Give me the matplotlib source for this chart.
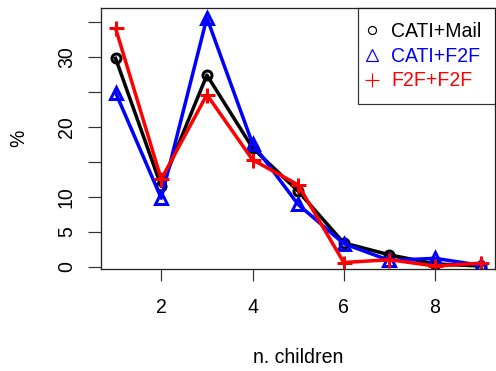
import matplotlib
matplotlib.use("Agg")
import matplotlib.pyplot as plt

# ---- data ----
n_children = [1, 2, 3, 4, 5, 6, 7, 8, 9]
cati_mail = [29.8, 11.5, 27.4, 17.0, 10.8, 3.4, 1.7, 0.4, 0.1]
cati_f2f = [24.9, 9.8, 35.6, 17.6, 8.9, 3.3, 0.9, 1.2, 0.2]
f2f_f2f = [34.1, 12.5, 24.6, 15.3, 11.7, 0.6, 1.0, 0.1, 0.5]
series_names = ["CATI+Mail", "CATI+F2F", "F2F+F2F"]
x_ticks = [2, 4, 6, 8]
y_ticks = [0, 5, 10, 15, 20, 25, 30, 35]
y_tick_labels = ["0", "5", "10", "", "20", "", "30", ""]

plt.rcParams['font.family'] = ['Liberation Sans', 'DejaVu Sans']
FS = 19.5

fig = plt.figure(figsize=(496 / 72, 371 / 72), dpi=72)
ax = fig.add_axes([101 / 496, 1 - 269.3 / 371, (495.3 - 101) / 496, (269.3 - 8) / 371])

styles = [
    dict(color="black", marker="o", ms=9),
    dict(color="blue", marker="^", ms=12),
    dict(color="red", marker="+", ms=15),
]
for vals, st in zip([cati_mail, cati_f2f, f2f_f2f], styles):
    ax.plot(n_children, vals, color=st["color"], lw=3.5, marker=st["marker"],
            ms=st["ms"], mew=3, mfc="none", mec=st["color"], solid_joinstyle="round")

ax.set_xlim(0.68, 9.32)
ax.set_ylim(-0.37, 37.0)
ax.set_xticks(x_ticks)
ax.set_xticklabels([str(t) for t in x_ticks], fontsize=FS)
ax.set_yticks(y_ticks)
ax.set_yticklabels(y_tick_labels, fontsize=FS, rotation=90, va="center")
ax.tick_params(axis="x", length=12, width=1.2, pad=16.5, color="#333333")
ax.tick_params(axis="y", length=12.7, width=1.2, pad=12.5, color="#333333")
for s in ax.spines.values():
    s.set_linewidth(1.3)
    s.set_color("#222222")

ax.set_xlabel("n. children", fontsize=FS, labelpad=31)
ax.set_ylabel("%", fontsize=FS, labelpad=28.5)

handles = [
    plt.Line2D([], [], ls="none", marker="o", ms=8, mew=1.2, mfc="none", color="black"),
    plt.Line2D([], [], ls="none", marker="^", ms=12, mew=1.2, mfc="none", color="blue"),
    plt.Line2D([], [], ls="none", marker="+", ms=14, mew=1.2, color="red"),
]
leg = ax.legend(handles, series_names, loc="upper right", fontsize=FS,
                frameon=True, fancybox=False, shadow=False, borderaxespad=0,
                borderpad=0.7, handlelength=0, handletextpad=1.0,
                labelspacing=0.3, edgecolor="black")
leg.get_frame().set_linewidth(1.2)
for t, c in zip(leg.get_texts(), ["black", "blue", "red"]):
    t.set_color(c)

fig.savefig("out.png", dpi=72)
